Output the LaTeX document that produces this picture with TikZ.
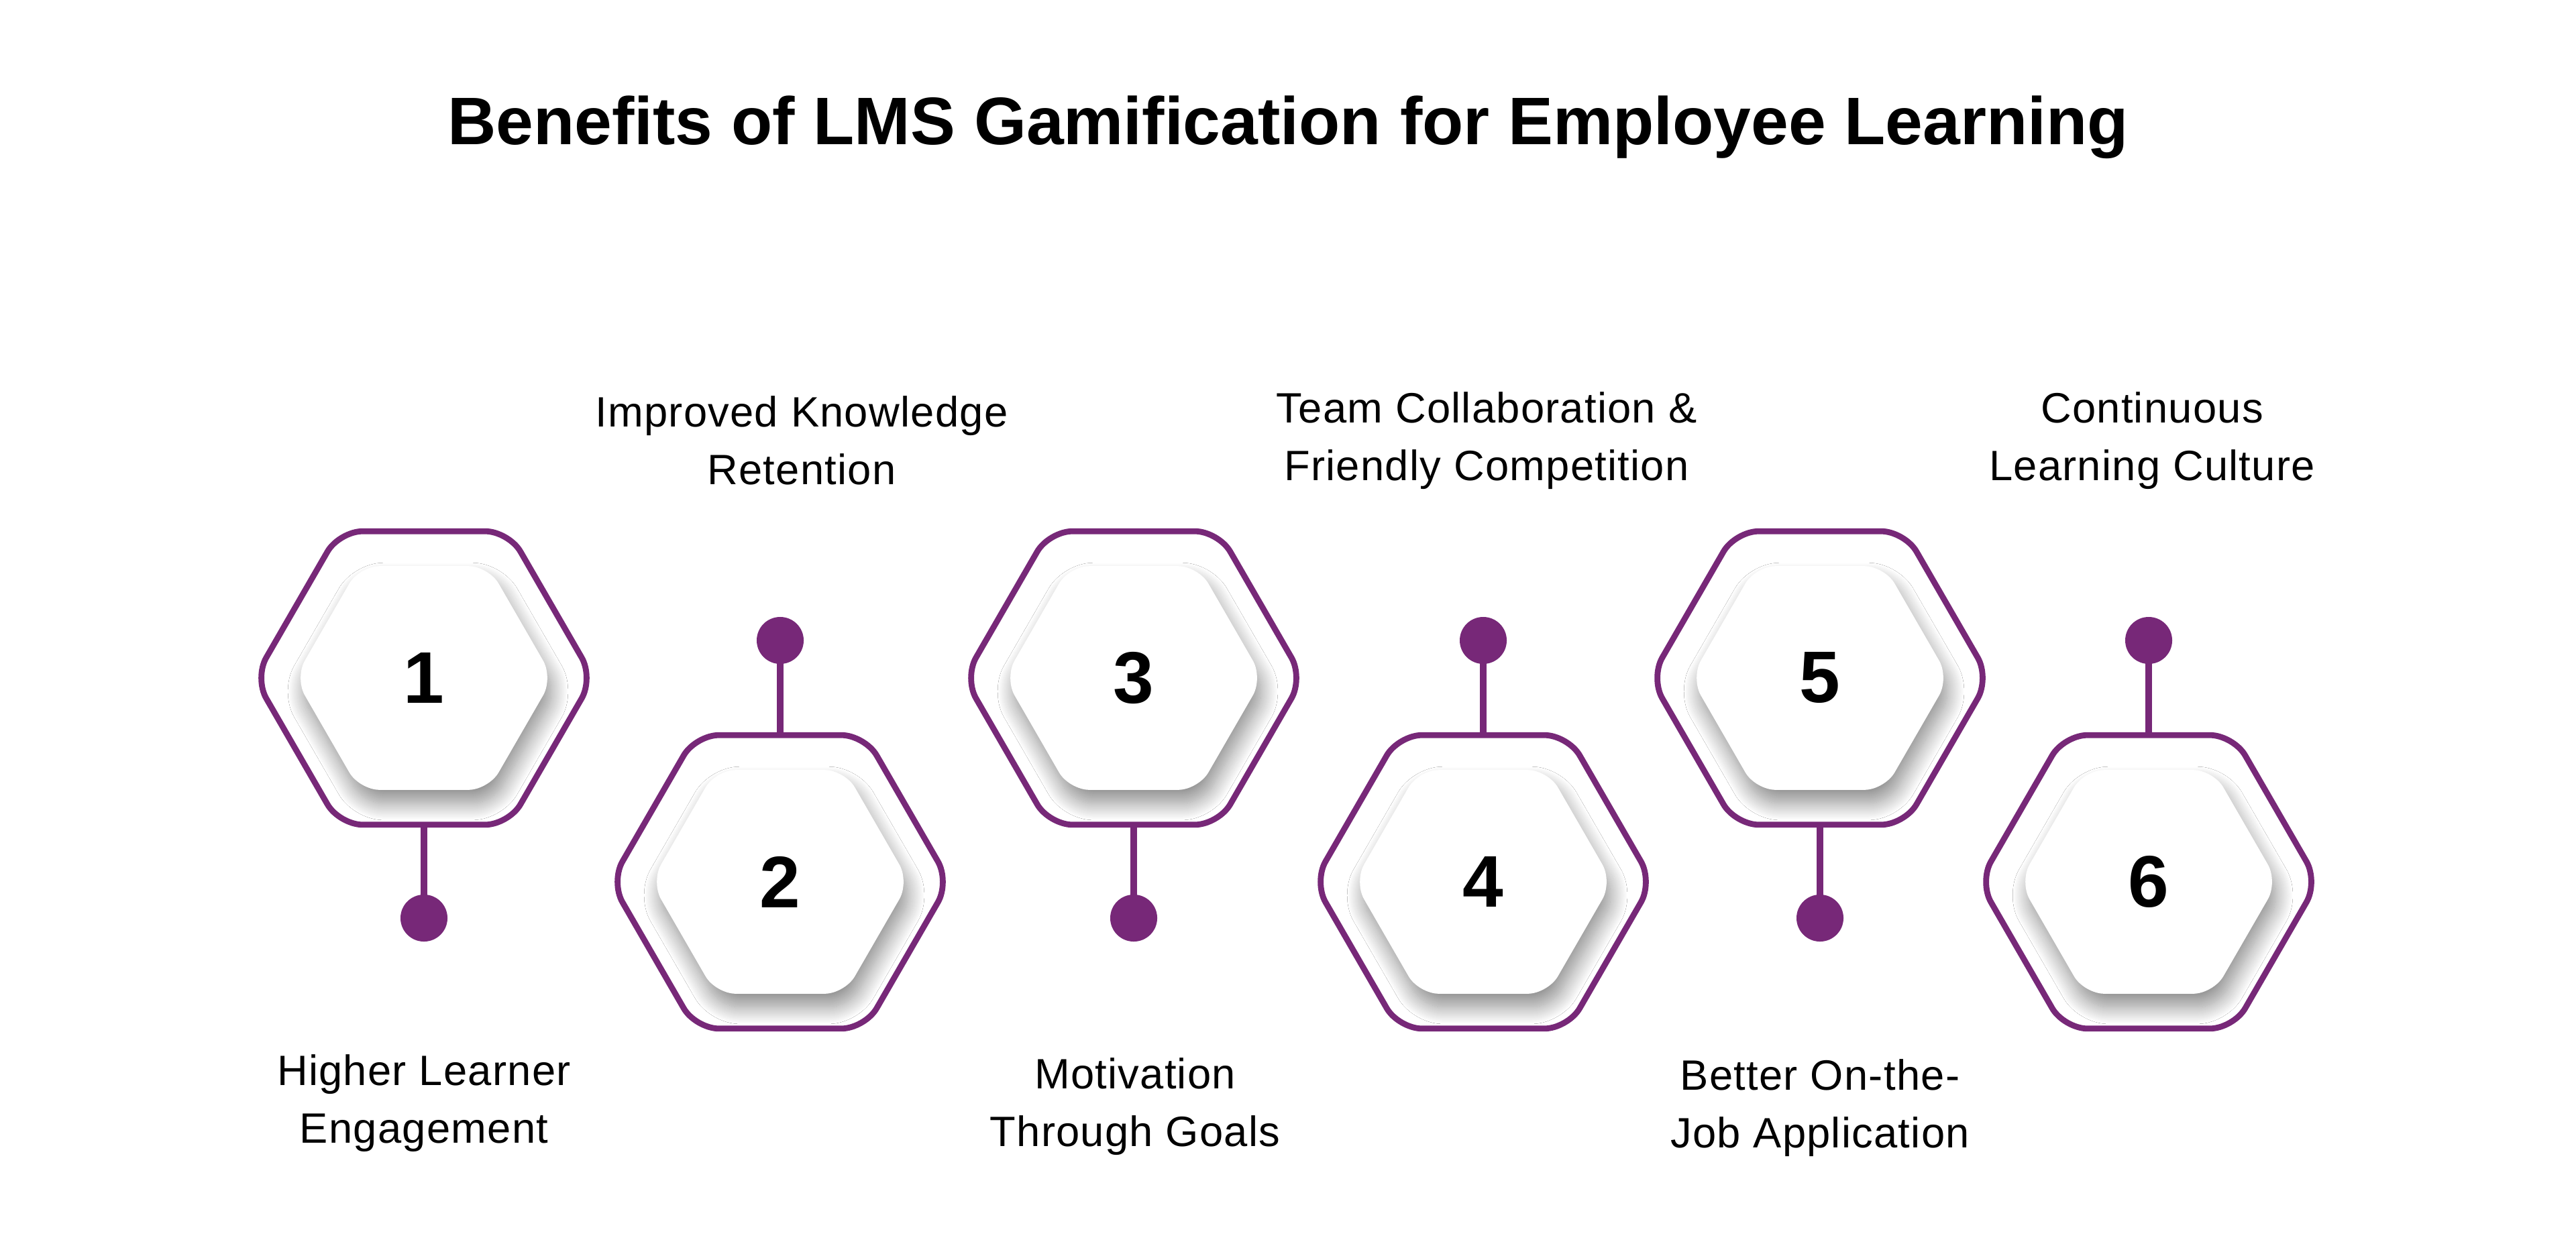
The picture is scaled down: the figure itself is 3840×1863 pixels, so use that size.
\documentclass[tikz,border=0pt]{standalone}
\usepackage{fontspec}
\setmainfont{Liberation Sans}
\usetikzlibrary{shapes.geometric,shadows.blur}
\definecolor{pur}{HTML}{772878}
\tikzset{
 outerhex/.style={regular polygon,regular polygon sides=6,minimum size=5.05cm,inner sep=0pt,draw=pur,line width=2.5pt,rounded corners=0.35cm},
 innerhex/.style={regular polygon,regular polygon sides=6,minimum size=3.85cm,inner sep=0pt,fill=white,rounded corners=0.3cm,blur shadow={shadow xshift=0.06cm,shadow yshift=-0.2cm,shadow blur radius=0.25cm,shadow blur steps=25,shadow opacity=45},font=\fontsize{31}{31}\selectfont\bfseries},
 dot/.style={circle,fill=pur,minimum size=0.7cm,inner sep=0pt},
 stem/.style={draw=pur,line width=2.8pt},
 lbl/.style={align=center,font=\fontsize{18}{24.5}\selectfont\addfontfeature{LetterSpace=2}}
}
\begin{document}
\begin{tikzpicture}[x=0.01cm,y=-0.01cm]
\useasboundingbox[fill=white] (0,0) rectangle (3840,1863);
\node[font=\fontsize{28.5}{30}\selectfont\bfseries] (title) at (1920,190) {Benefits of LMS Gamification for Employee Learning};
% hexagons
\foreach \n/\x/\y in {1/632/1011,2/1163/1315,3/1690/1011,4/2211/1315,5/2713/1011,6/3203/1315}{
  \node[outerhex] (h\n) at (\x,\y) {};
  \node[innerhex] (i\n) at (\x,\y) {\n};
}
% dots
\node[dot] (d1) at (632,1369) {};
\node[dot] (d2) at (1163,955) {};
\node[dot] (d3) at (1690,1369) {};
\node[dot] (d4) at (2211,955) {};
\node[dot] (d5) at (2713,1369) {};
\node[dot] (d6) at (3203,955) {};
\draw[stem] (h1.south) -- (d1.center);
\draw[stem] (h2.north) -- (d2.center);
\draw[stem] (h3.south) -- (d3.center);
\draw[stem] (h4.north) -- (d4.center);
\draw[stem] (h5.south) -- (d5.center);
\draw[stem] (h6.north) -- (d6.center);
% labels
\node[lbl] (l1) at (632,1645) {Higher Learner\\Engagement};
\node[lbl] (l2) at (1195,657) {Improved Knowledge\\Retention};
\node[lbl] (l3) at (1692,1650) {Motivation\\Through Goals};
\node[lbl] (l4) at (2216,657) {Team Collaboration \&\\Friendly Competition};
\node[lbl] (l5) at (2713,1652) {Better On-the-\\Job Application};
\node[lbl] (l6) at (3208,657) {Continuous\\Learning Culture};
\end{tikzpicture}
\end{document}
